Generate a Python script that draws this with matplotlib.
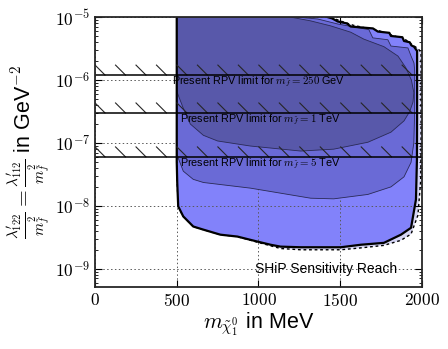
import numpy as np
import matplotlib
matplotlib.use("Agg")
import matplotlib.pyplot as plt
import matplotlib.patheffects as pe
from matplotlib.ticker import FuncFormatter, LogLocator, NullFormatter

plt.rcParams['font.family'] = ['Liberation Sans', 'DejaVu Sans']
plt.rcParams['mathtext.fontset'] = 'cm'

# outer region (thick black outline), log10 of coupling
outer_x = [500, 500, 503, 509, 540, 601, 663, 767, 871, 994, 1074, 1135, 1258, 1503, 1626, 1767,
           1871, 1933, 1963, 1969, 1970, 1970, 1951, 1935, 1925, 1890, 1880, 1810, 1800, 1730,
           1700, 1564, 1540, 1485, 1450, 1423]
outer_ly = [-5.0, -7.3, -7.63, -8.01, -8.17, -8.33, -8.38, -8.46, -8.49, -8.57, -8.62, -8.65, -8.66,
            -8.66, -8.62, -8.59, -8.46, -8.35, -7.9, -7.26, -6.5, -5.54, -5.47, -5.45, -5.40, -5.38,
            -5.32, -5.30, -5.25, -5.23, -5.18, -5.15, -5.10, -5.07, -5.02, -5.0]

# dashed region (slightly larger than outer)
dash_x = [500, 500, 503, 509, 540, 601, 663, 767, 871, 994, 1135, 1258, 1503, 1626, 1767, 1871,
          1933, 1975, 1992, 1994, 1994, 1975, 1940, 1900, 1820, 1740, 1580, 1500, 1440]
dash_ly = [-5.0, -7.3, -7.63, -8.01, -8.17, -8.33, -8.38, -8.46, -8.49, -8.58, -8.68, -8.70, -8.70,
           -8.67, -8.63, -8.55, -8.45, -8.15, -7.6, -7.0, -5.56, -5.50, -5.44, -5.36, -5.29, -5.22,
           -5.13, -5.06, -5.0]

# middle contour
mid_x = [500, 500, 503, 540, 601, 663, 951, 1319, 1460, 1669, 1810, 1890, 1933, 1950, 1955, 1955,
         1951, 1933, 1914, 1810, 1791, 1699, 1675, 1485, 1362, 1239]
mid_ly = [-5.0, -7.1, -7.2, -7.45, -7.58, -7.63, -7.72, -7.88, -7.89, -7.82, -7.70, -7.54, -7.31,
          -7.0, -6.5, -5.85, -5.73, -5.62, -5.49, -5.46, -5.36, -5.33, -5.20, -5.11, -5.03, -5.0]

# inner (darkest) contour
inner_x = [500, 500, 503, 540, 583, 663, 750, 950, 1258, 1460, 1669, 1810, 1890, 1925, 1945,
           1950, 1935, 1900, 1853, 1767, 1644, 1564, 1442, 1319, 1196]
inner_ly = [-5.0, -6.1, -6.2, -6.45, -6.7, -6.88, -6.97, -7.05, -7.13, -7.10, -6.99, -6.83, -6.65,
            -6.5, -6.35, -6.2, -6.0, -5.8, -5.62, -5.47, -5.35, -5.24, -5.14, -5.06, -5.0]

# present RPV limits
rpv_limits = [1.2e-6, 3.0e-7, 6.0e-8]
rpv_labels = ['Present RPV limit for $m_{\\tilde f}=250$ GeV',
              'Present RPV limit for $m_{\\tilde f}=1$ TeV',
              'Present RPV limit for $m_{\\tilde f}=5$ TeV']
rpv_text_x = [470, 520, 520]

fig = plt.figure(figsize=(4.48, 3.49), dpi=100)
ax = fig.add_axes([0.212, 0.178, 0.730, 0.773])
ax.set_yscale('log')

ax.fill(dash_x, 10 ** np.array(dash_ly), color='#d6d6f6', lw=0, zorder=1)
ax.plot(dash_x[1:], 10 ** np.array(dash_ly[1:]), color='k', ls=(0, (2, 2)), lw=1.0, zorder=2)
ax.fill(outer_x, 10 ** np.array(outer_ly), color='#8282fa', lw=0, zorder=2)
ax.fill(mid_x, 10 ** np.array(mid_ly), facecolor='#6a6ad6', edgecolor='#2a2a55', lw=0.6, zorder=3)
ax.fill(inner_x, 10 ** np.array(inner_ly), facecolor='#5858aa', edgecolor='#2a2a55', lw=0.6, zorder=4)
ax.plot(outer_x, 10 ** np.array(outer_ly), color='k', lw=1.6, zorder=5)

for lim in rpv_limits:
    ax.plot([0, 2000], [lim, lim], color='k', lw=1.1, zorder=7,
            path_effects=[pe.withTickedStroke(angle=135, spacing=14.4, length=0.7,
                                              linewidth=0.8, foreground='0.15')])
for lim, lab, tx in zip(rpv_limits, rpv_labels, rpv_text_x):
    ax.text(tx, lim, lab, fontsize=7.8, ha='left', va='top', zorder=8)

ax.text(1850, 1.0e-9, 'SHiP Sensitivity Reach', fontsize=10, ha='right', va='center', zorder=8)

ax.set_xlim(0, 2000)
ax.set_ylim(10 ** -9.29, 1e-5)
ax.set_xticks([0, 500, 1000, 1500, 2000])
ax.xaxis.set_major_formatter(FuncFormatter(lambda v, p: f'${int(v)}$'))
ax.yaxis.set_major_locator(LogLocator(base=10, numticks=10))
ax.yaxis.set_minor_locator(LogLocator(base=10, subs=np.arange(2, 10), numticks=20))
ax.yaxis.set_major_formatter(FuncFormatter(lambda v, p: f'$10^{{{int(round(np.log10(v)))}}}$'))
ax.yaxis.set_minor_formatter(NullFormatter())
ax.tick_params(which='both', direction='in', top=True, right=True, labelsize=12.5)
ax.tick_params(which='major', length=5)
ax.tick_params(which='minor', length=2.5)
ax.set_axisbelow(False)
ax.grid(which='major', ls=(0, (1.5, 2.5)), lw=0.7, color='0.35', zorder=6)
for s in ax.spines.values():
    s.set_linewidth(1.3)
    s.set_color('0.15')
    s.set_zorder(9)

ax.set_xlabel('$m_{\\tilde\\chi_1^0}$ in MeV', fontsize=15.5, labelpad=1)
ax.set_ylabel('$\\frac{\\lambda^{\\prime}_{122}}{m_{\\tilde f}^2}=\\frac{\\lambda^{\\prime}_{112}}{m_{\\tilde f}^2}$ in GeV$^{-2}$',
              fontsize=15.5, labelpad=2)

fig.savefig('out.png', dpi=100)
